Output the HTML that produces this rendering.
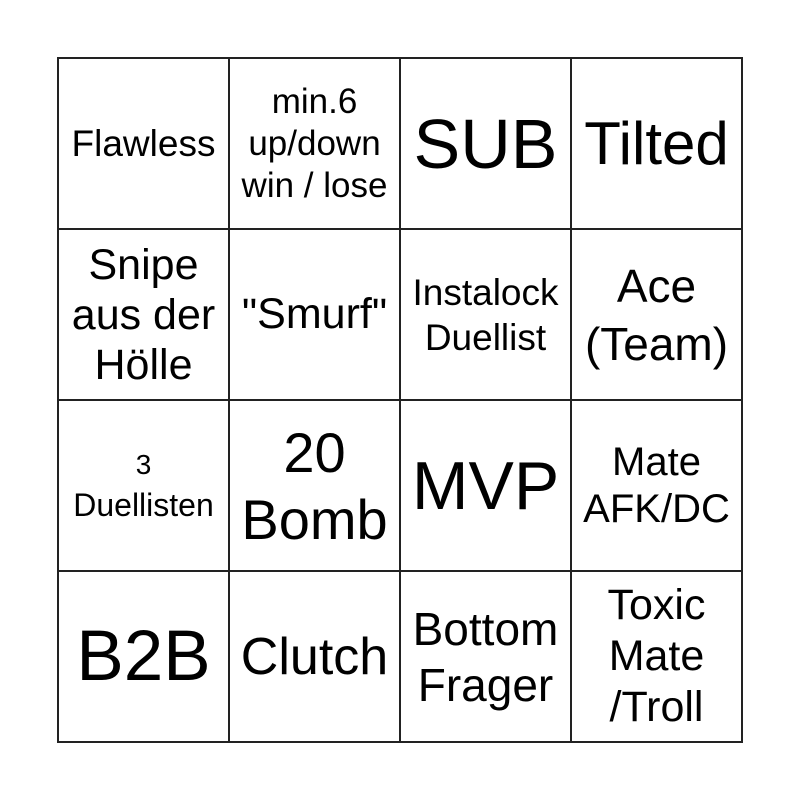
<!DOCTYPE html>
<html><head><meta charset="utf-8"><style>
body{margin:0;width:800px;height:800px;background:#fff;position:relative;overflow:hidden;font-family:"Liberation Sans",sans-serif;color:#000}
.c{position:absolute;width:171px;height:171px;display:flex;align-items:center;justify-content:center;text-align:center;white-space:nowrap}
.h{position:absolute;left:57px;width:686px;height:2px;background:#222}
.v{position:absolute;top:57px;height:686px;width:2px;background:#222}
</style></head><body>
<div class="h" style="top:57px"></div><div class="h" style="top:228px"></div><div class="h" style="top:399px"></div><div class="h" style="top:570px"></div><div class="h" style="top:741px"></div>
<div class="v" style="left:57px"></div><div class="v" style="left:228px"></div><div class="v" style="left:399px"></div><div class="v" style="left:570px"></div><div class="v" style="left:741px"></div>

<div class="c" style="left:58px;top:58px;font-size:37px"><div>Flawless</div></div>
<div class="c" style="left:229px;top:58px;font-size:35px;line-height:42px"><div>min.6<br>up/down<br>win / lose</div></div>
<div class="c" style="left:400px;top:58px;font-size:70px"><div>SUB</div></div>
<div class="c" style="left:571px;top:58px;font-size:60px"><div>Tilted</div></div>

<div class="c" style="left:58px;top:229px;font-size:43px;line-height:50px"><div>Snipe<br>aus der<br>Hölle</div></div>
<div class="c" style="left:229px;top:229px;font-size:43px"><div>"Smurf"</div></div>
<div class="c" style="left:400px;top:229px;font-size:37px;line-height:45px"><div>Instalock<br>Duellist</div></div>
<div class="c" style="left:571px;top:229px;font-size:46px;line-height:58px"><div>Ace<br>(Team)</div></div>

<div class="c" style="left:58px;top:400px;font-size:28px;line-height:41px"><div>3<br><span style="font-size:32px">Duellisten</span></div></div>
<div class="c" style="left:229px;top:400px;font-size:56px;line-height:67px"><div>20<br>Bomb</div></div>
<div class="c" style="left:400px;top:400px;font-size:68px"><div>MVP</div></div>
<div class="c" style="left:571px;top:400px;font-size:40px;line-height:47px"><div>Mate<br>AFK/DC</div></div>

<div class="c" style="left:58px;top:571px;font-size:71px"><div>B2B</div></div>
<div class="c" style="left:229px;top:571px;font-size:52px"><div>Clutch</div></div>
<div class="c" style="left:400px;top:571px;font-size:46px;line-height:56px"><div>Bottom<br>Frager</div></div>
<div class="c" style="left:571px;top:571px;font-size:43px;line-height:51px"><div>Toxic<br>Mate<br>/Troll</div></div>
</body></html>
